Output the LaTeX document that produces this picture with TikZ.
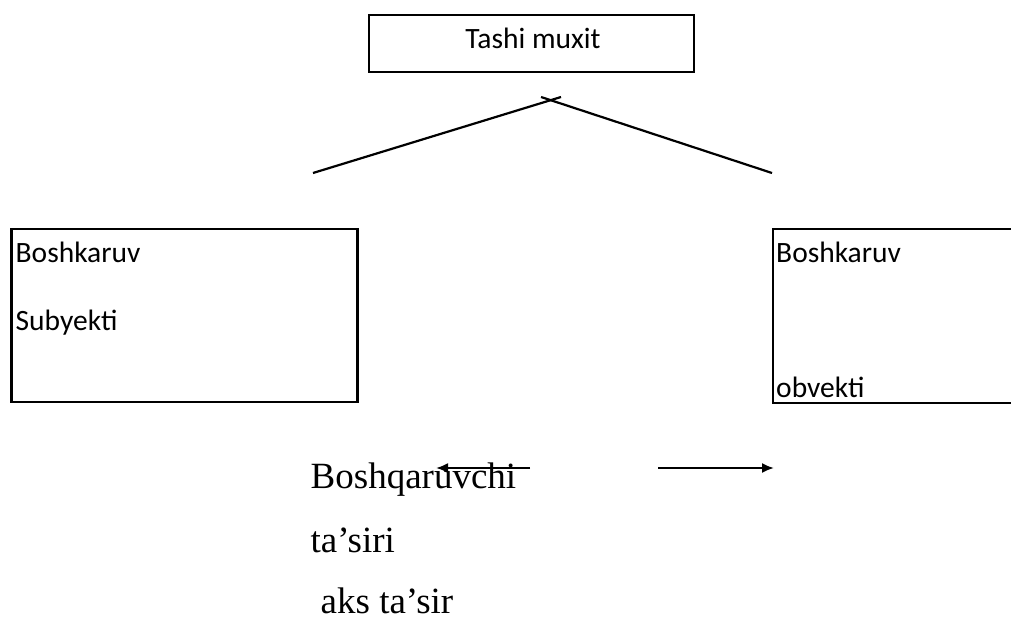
\documentclass[tikz,border=0pt]{standalone}
\usepackage{fontspec}
\usetikzlibrary{arrows.meta}
\setmainfont{Liberation Serif}
\newfontfamily\calib{Carlito}
\begin{document}
\begin{tikzpicture}[x=1pt,y=-1pt,
  box/.style={draw,line width=2.5pt,inner sep=0pt},
  ln/.style={line width=2.2pt},
  boxtxt/.style={anchor=base west,inner sep=0pt,font=\calib\fontsize{29.5}{34}\selectfont},
  serif/.style={anchor=base west,inner sep=0pt,font=\fontsize{37}{42}\selectfont},
  arr/.style={line width=2pt,-{Latex[length=12pt,width=10pt]}}]
\useasboundingbox (0,0) rectangle (1011,619);
% top box
\node[box,minimum width=325pt,minimum height=57pt] (top) at (531.5,43.5) {};
\node[anchor=base,inner sep=0pt,font=\calib\fontsize{29.5}{34}\selectfont] (toptxt) at (533,48) {Tashi muxit};
% crossing lines
\coordinate (l1) at (313,173);
\coordinate (l2) at (561,97);
\coordinate (r1) at (541,97);
\coordinate (r2) at (772,173);
\draw[ln] (l1) -- (l2);
\draw[ln] (r1) -- (r2);
% left box
\node[box,minimum width=346pt,minimum height=173pt] (left) at (184.5,315.5) {};
\node[boxtxt] (lt1) at (15.5,262) {Boshkaruv};
\node[boxtxt] (lt2) at (15.5,330) {Subyekti};
% right box (runs off the page)
\draw[line width=2.5pt] (1030,229) -- (773,229) -- (773,403) -- (1030,403);
\coordinate (right) at (773,316);
\node[boxtxt] (rt1) at (776,262) {Boshkaruv};
\node[boxtxt] (rt2) at (776,397) {obvekti};
% bottom texts
\node[serif] (b1) at (310.5,488) {Boshqaruvchi};
\node[serif] (b2) at (310.5,552) {ta’siri};
\node[serif] (b3) at (320.5,613) {aks ta’sir};
% arrows
\coordinate (a1s) at (530,468);
\coordinate (a1e) at (436,468);
\coordinate (a2s) at (658,468);
\coordinate (a2e) at (774,468);
\draw[arr] (a1s) -- (a1e);
\draw[arr] (a2s) -- (a2e);
\end{tikzpicture}
\end{document}
